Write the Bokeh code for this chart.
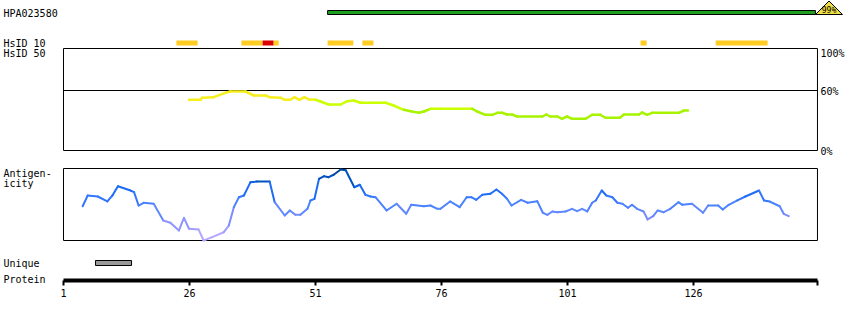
from bokeh.plotting import figure
from bokeh.models import Range1d, LinearAxis, FixedTicker, ColumnDataSource
from bokeh.transform import linear_cmap
from bokeh.core.properties import value
from bokeh.embed import file_html
from bokeh.resources import INLINE

# ---------------- data ----------------
antibody_id = "HPA023580"
antigen_identity = "99%"
antigen_start = 53.4
antigen_end = 150.2
protein_length = 150
axis_end = 150.6
tick_positions = [1, 26, 51, 76, 101, 126]

unique_start = 7.35
unique_end = 14.5

hsid10_left = [23.4, 36.3, 40.5, 42.7, 53.4, 60.3, 115.5, 130.4]
hsid10_right = [27.6, 40.5, 42.7, 43.7, 58.5, 62.5, 116.7, 140.7]
hsid10_level = ["mid", "mid", "high", "mid", "mid", "mid", "mid", "mid"]

hsid50_pos = [25.9, 28.2, 28.5, 30.8, 33.5, 34.1, 37.1, 38.8, 41.1, 41.9, 44.1, 44.9,
              46.0, 46.8, 47.8, 48.8, 49.7, 51.0, 52.0, 53.6, 56.0, 57.3, 58.6, 59.9,
              64.9, 66.5, 68.5, 69.9, 71.5, 72.5, 73.8, 75.8, 82.1, 83.1, 84.7, 86.1,
              87.1, 88.0, 89.0, 90.0, 91.0, 96.0, 96.8, 97.6, 99.0, 99.9, 100.9, 101.9,
              104.6, 105.9, 107.5, 108.5, 111.4, 112.2, 115.2, 115.8, 116.8, 117.8,
              123.1, 124.1, 124.9]
hsid50_pct = [50.7, 50.7, 52.7, 53.3, 58.3, 59.0, 59.0, 55.0, 55.0, 53.3, 52.7, 50.7,
              50.7, 53.3, 50.7, 53.3, 51.0, 50.7, 49.0, 46.0, 46.0, 49.3, 50.0, 47.7,
              47.7, 45.0, 40.7, 39.3, 37.7, 39.0, 41.7, 41.7, 41.7, 39.0, 35.7, 35.7,
              37.7, 37.7, 36.0, 36.0, 34.0, 34.0, 36.0, 34.0, 34.0, 31.7, 34.0, 31.7,
              31.7, 35.7, 35.7, 32.7, 32.7, 36.0, 36.0, 38.0, 35.7, 37.7,
              37.7, 40.0, 40.0]

antigen_pos = [4.8, 5.8, 7.8, 9.7, 10.7, 11.8, 14.3, 15.0, 15.9, 16.9, 18.9, 20.8,
               22.2, 23.9, 24.9, 25.9, 27.8, 28.8, 30.5, 32.8, 33.8, 34.8, 35.8, 36.8,
               38.1, 39.4, 41.9, 42.9, 44.9, 45.9, 47.0, 48.0, 49.4, 50.0, 50.8, 51.7,
               52.7, 53.6, 54.6, 56.0, 57.0, 58.7, 59.8, 60.9, 61.9, 62.9, 65.1, 67.1,
               69.0, 70.0, 72.5, 73.8, 75.2, 75.8, 77.7, 79.6, 81.0, 81.9, 82.9, 84.1,
               85.7, 86.9, 88.0, 89.0, 89.9, 91.8, 93.1, 95.0, 96.1, 97.0, 98.0, 99.0,
               100.6, 101.9, 102.9, 103.9, 104.9, 105.9, 106.6, 107.8, 108.7, 109.9,
               110.9, 111.9, 113.0, 113.8, 114.8, 116.1, 116.9, 118.0, 118.9, 120.1,
               121.4, 123.0, 123.8, 125.7, 127.9, 128.9, 130.9, 131.8, 133.0, 134.7,
               136.3, 139.0, 140.0, 141.1, 143.1, 143.9, 144.9]
antigen_val = [47.6, 62.5, 61.1, 54.2, 62.5, 75.4, 69.4, 67.1, 48.6, 52.4, 51.0, 27.8,
               24.6, 13.9, 31.5, 16.3, 15.3, 0.0, 4.6, 11.5, 20.8, 46.3, 60.1, 62.5,
               81.0, 81.9, 81.9, 53.2, 34.7, 41.7, 35.7, 35.7, 44.0, 55.6, 57.9, 85.7,
               89.3, 87.9, 91.3, 98.6, 97.6, 74.0, 77.4, 63.5, 61.1, 60.1, 41.7, 51.0,
               37.1, 49.6, 47.6, 48.6, 44.0, 44.0, 54.2, 46.3, 60.1, 60.1, 56.5, 63.5,
               64.9, 70.8, 64.9, 57.9, 48.6, 56.5, 52.4, 54.6, 38.5, 35.7, 40.3, 39.3,
               40.3, 44.0, 40.7, 44.0, 40.3, 52.4, 55.6, 69.4, 62.5, 60.1,
               52.4, 51.0, 45.4, 49.6, 44.0, 40.3, 29.2, 33.8, 41.7, 39.3,
               44.0, 53.2, 49.6, 51.0, 38.5, 48.6, 48.6, 43.1, 49.6, 55.6,
               61.1, 69.4, 55.6, 54.2, 47.6, 37.1, 33.8]

# ---------------- layout (pixels) ----------------
W, H = 850, 320
X0_PX = 63.0          # pixel of residue 1
PX_PER_RES = 5.04
AXIS_Y = 280          # protein axis line
HS_TOP, HS_ZERO = 48, 150      # HsID panel, 1 px per percent
AG_TOP, AG_BOTTOM = 168, 240   # antigenicity panel (0..100)
AG_SCALE = (AG_BOTTOM - AG_TOP) / 100.0
FONT = "DejaVu Sans Mono"

x_range = Range1d(1 - X0_PX / PX_PER_RES, 1 + (W - X0_PX) / PX_PER_RES)
p = figure(width=W, height=H, x_range=x_range, y_range=Range1d(H, 0),
           x_axis_location=None, y_axis_location=None,
           toolbar_location=None, output_backend="svg",
           min_border=0, outline_line_color=None,
           background_fill_color="white", border_fill_color="white")
p.grid.visible = False
p.extra_x_ranges = {"px": Range1d(0, W)}
p.extra_y_ranges = {
    "hs": Range1d(-(H - HS_ZERO), HS_ZERO),
    "ag": Range1d(-(H - AG_BOTTOM) / AG_SCALE, AG_BOTTOM / AG_SCALE),
}

# protein axis (drawn inside the frame at a fixed position)
ax = LinearAxis(ticker=FixedTicker(ticks=tick_positions), bounds=(1, axis_end),
                fixed_location=AXIS_Y)
ax.axis_line_width = 4
ax.axis_line_color = "black"
ax.major_tick_line_width = 2
ax.major_tick_out = 5
ax.major_tick_in = 0
ax.minor_tick_out = 0
ax.minor_tick_in = 0
ax.major_label_standoff = 3
ax.major_label_text_font = FONT
ax.major_label_text_font_size = "10px"
ax.major_label_text_color = "black"
p.add_layout(ax, "below")

# top antigen bar + identity triangle
p.quad(left=[antigen_start], right=[antigen_end], top=[10], bottom=[14],
       fill_color="#1f9f1f", line_color="black", line_width=1)
p.patch(x=[815, 828.5, 842], y=[14, 0.5, 14], x_range_name="px",
        fill_color="#eedd44", line_color="black", line_width=1)
p.text(x=[828.5], y=[10], text=[antigen_identity], x_range_name="px",
       text_font=value(FONT), text_font_size="8px", text_align="center",
       text_baseline="middle", text_color="black")

# HsID 10 bars
hs10_colors = {"mid": "#ffcc22", "high": "#dd0000"}
p.quad(left=hsid10_left, right=hsid10_right, top=[40] * len(hsid10_left),
       bottom=[45] * len(hsid10_left),
       fill_color=[hs10_colors[l] for l in hsid10_level], line_color=None)

# panel boxes
p.quad(left=[1, 1], right=[axis_end, axis_end], top=[HS_TOP, AG_TOP],
       bottom=[HS_ZERO, AG_BOTTOM], fill_color=None, line_color="black", line_width=1)
p.segment(x0=[1], x1=[axis_end], y0=[60], y1=[60], y_range_name="hs",
          line_color="black", line_width=1)

# HsID 50 line
def hs_color(pos, v):
    if pos < 51:
        return "#f6ef1e"
    if v >= 41:
        return "#ccff00"
    return "#a8f400"

segs = dict(x0=hsid50_pos[:-1], x1=hsid50_pos[1:], y0=hsid50_pct[:-1], y1=hsid50_pct[1:])
segs["c"] = [hs_color((a + b) / 2, (u + w) / 2) for a, b, u, w in
             zip(segs["x0"], segs["x1"], segs["y0"], segs["y1"])]
p.segment("x0", "y0", "x1", "y1", source=ColumnDataSource(segs), y_range_name="hs",
          line_color="c", line_width=2.5, line_cap="round")

# antigenicity line
ag_palette = ["#b4a8ff", "#a29cff", "#8f94ff", "#7a8cff", "#6088ff", "#4a82ff",
              "#3377ff", "#1e6cf5", "#0a5fe0", "#0052c0", "#00479a"]
ag = dict(x0=antigen_pos[:-1], x1=antigen_pos[1:], y0=antigen_val[:-1], y1=antigen_val[1:])
ag["v"] = [(a + b) / 2 for a, b in zip(ag["y0"], ag["y1"])]
p.segment("x0", "y0", "x1", "y1", source=ColumnDataSource(ag), y_range_name="ag",
          line_color=linear_cmap("v", ag_palette, 0, 100), line_width=2, line_cap="round")

# unique bar
p.quad(left=[unique_start], right=[unique_end], top=[260], bottom=[265],
       fill_color="#999999", line_color="black", line_width=1)

# end tick on protein axis
p.segment(x0=[axis_end], x1=[axis_end], y0=[AXIS_Y], y1=[AXIS_Y + 5],
          line_color="black", line_width=2)

# labels
left_text = [antibody_id, "HsID 10", "HsID 50", "Antigen-", "icity", "Unique", "Protein"]
left_y = [12.5, 42.5, 52.5, 172.5, 182.5, 262.5, 279]
p.text(x=[3] * len(left_text), y=left_y, text=left_text, x_range_name="px",
       text_font=value(FONT), text_font_size="10px", text_align="left",
       text_baseline="middle", text_color="black")
right_text = ["100%", "60%", "0%"]
right_y = [52.5, 90.5, 150.5]
p.text(x=[820] * 3, y=right_y, text=right_text, x_range_name="px",
       text_font=value(FONT), text_font_size="10px", text_align="left",
       text_baseline="middle", text_color="black")

open("out.html", "w").write(file_html(p, INLINE))
